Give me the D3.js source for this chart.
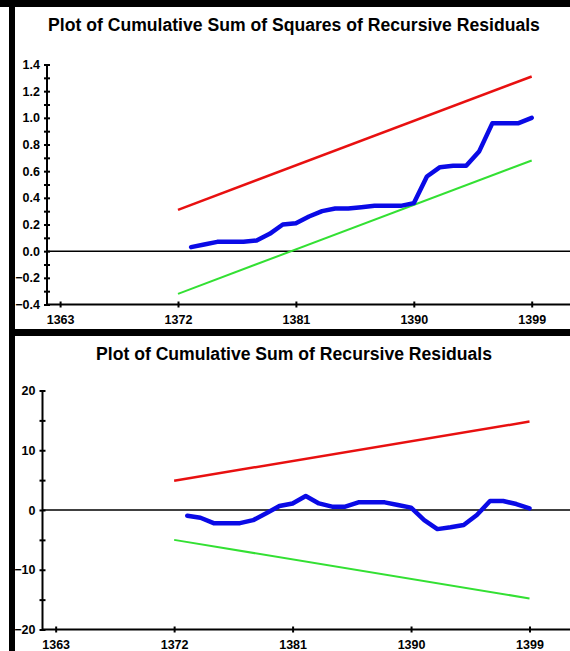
<!DOCTYPE html>
<html>
<head>
<meta charset="utf-8">
<script src="https://cdn.jsdelivr.net/npm/d3@7"></script>
<style>
  html, body { margin: 0; padding: 0; background: #fff; }
  svg { display: block; }
  text { font-family: "Liberation Sans", Arial, sans-serif; font-weight: bold; fill: #000; }
</style>
</head>
<body>
<svg id="chart" width="570" height="651"></svg>
<script>
// years shared by both plots
const boundYears = [1372, 1399];
const residYears = [1373,1374,1375,1376,1377,1378,1379,1380,1381,1382,1383,1384,1385,1386,
                    1387,1388,1389,1390,1391,1392,1393,1394,1395,1396,1397,1398,1399];
const xTicks = [1363, 1372, 1381, 1390, 1399];

// CUSUM of squares
const sqTitle = 'Plot of Cumulative Sum of Squares of Recursive Residuals';
const sqUpper = [0.31, 1.31];
const sqLower = [-0.32, 0.68];
const sqValues = [0.03,0.05,0.07,0.07,0.07,0.08,0.13,0.20,0.21,0.26,0.30,0.32,0.32,0.33,
                  0.34,0.34,0.34,0.36,0.56,0.63,0.64,0.64,0.75,0.96,0.96,0.96,1.00];
const sqTicks = [-0.4,-0.3,-0.2,-0.1,0,0.1,0.2,0.3,0.4,0.5,0.6,0.7,0.8,0.9,1.0,1.1,1.2,1.3,1.4];
const sqLabelled = [-0.4,-0.2,0,0.2,0.4,0.6,0.8,1.0,1.2,1.4];

// CUSUM
const csTitle = 'Plot of Cumulative Sum of Recursive Residuals';
const csUpper = [4.9, 14.8];
const csLower = [-5.0, -14.8];
const csValues = [-0.95,-1.3,-2.2,-2.2,-2.2,-1.7,-0.55,0.67,1.1,2.35,1.1,0.56,0.56,1.28,
                  1.28,1.28,0.84,0.4,-1.7,-3.2,-2.9,-2.5,-0.84,1.5,1.5,1.0,0.28];
const csTicks = [-20,-15,-10,-5,0,5,10,15,20];
const csLabelled = [-20,-10,0,10,20];

const svg = d3.select('#chart');

// frame
svg.append('rect').attr('x', 0).attr('y', 0).attr('width', 570).attr('height', 7).attr('fill', '#000');
svg.append('rect').attr('x', 9).attr('y', 0).attr('width', 6).attr('height', 651).attr('fill', '#000');
svg.append('rect').attr('x', 9).attr('y', 329).attr('width', 561).attr('height', 7).attr('fill', '#000');

function panel(o) {
  const g = svg.append('g');
  const x = d3.scaleLinear().domain([1362, 1402]).range(o.xRange);
  const y = d3.scaleLinear().domain(o.yDomain).range(o.yRange);

  g.append('text').attr('x', 294).attr('y', o.titleY)
    .attr('text-anchor', 'middle').style('font-size', '17.6px').text(o.title);

  // zero line
  g.append('line').attr('x1', x.range()[0]).attr('x2', 570)
    .attr('y1', y(0)).attr('y2', y(0)).attr('stroke', '#000').attr('stroke-width', 1.5);

  const yAxis = g.append('g').attr('transform', `translate(${x.range()[0]},0)`)
    .call(d3.axisLeft(y).tickValues(o.yTicks).tickSize(3).tickPadding(4)
      .tickFormat(d => o.yLabelled.some(v => Math.abs(v - d) < 1e-9) ? o.fmt(d) : ''));
  const xAxis = g.append('g').attr('transform', `translate(0,${y.range()[0]})`)
    .call(d3.axisBottom(x).tickValues(xTicks).tickSize(3).tickPadding(8).tickFormat(d3.format('d')));

  [yAxis, xAxis].forEach(a => {
    a.select('.domain').attr('stroke-width', 2);
    a.selectAll('.tick line').attr('stroke-width', 2);
    a.selectAll('text').style('font-size', '12.5px').style('font-family', '"Liberation Sans", Arial, sans-serif');
  });
  yAxis.select('.domain').attr('d', `M0,${y.range()[0]}V${y.range()[1]}`);
  yAxis.selectAll('.tick line').attr('x1', 3);
  xAxis.select('.domain').attr('d', `M${x.range()[0]},0H570`);
  xAxis.selectAll('.tick line').attr('y1', -3);

  const line = d3.line().x(d => x(d[0])).y(d => y(d[1]));
  g.append('path').datum(d3.zip(boundYears, o.upper)).attr('d', line)
    .attr('fill', 'none').attr('stroke', '#e81010').attr('stroke-width', 2.5);
  g.append('path').datum(d3.zip(boundYears, o.lower)).attr('d', line)
    .attr('fill', 'none').attr('stroke', '#33e033').attr('stroke-width', 2);
  g.append('path').datum(d3.zip(residYears, o.values)).attr('d', line)
    .attr('fill', 'none').attr('stroke', '#0a0ae6').attr('stroke-width', 4.5)
    .attr('stroke-linejoin', 'round').attr('stroke-linecap', 'round');
}

panel({
  title: sqTitle, titleY: 31,
  xRange: [47, 571], yDomain: [-0.4, 1.4], yRange: [304.5, 64.5],
  yTicks: sqTicks, yLabelled: sqLabelled, fmt: d3.format('.1f'),
  upper: sqUpper, lower: sqLower, values: sqValues
});

panel({
  title: csTitle, titleY: 360,
  xRange: [42.5, 569], yDomain: [-20, 20], yRange: [629.5, 390.5],
  yTicks: csTicks, yLabelled: csLabelled, fmt: d3.format('d'),
  upper: csUpper, lower: csLower, values: csValues
});
</script>
</body>
</html>
